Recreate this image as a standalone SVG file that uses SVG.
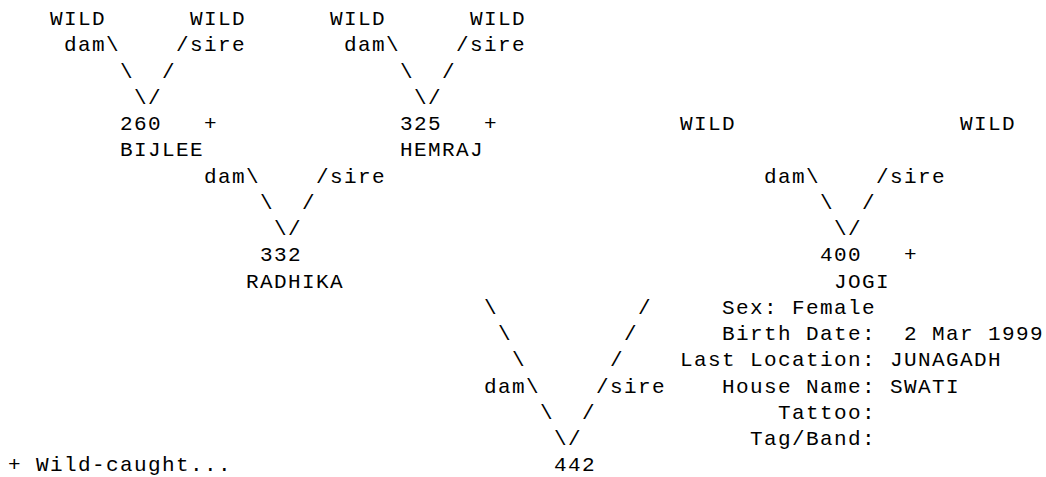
<svg xmlns="http://www.w3.org/2000/svg" width="1046" height="477" viewBox="0 0 1046 477">
<style>
text { font-family: "Liberation Mono", "DejaVu Sans Mono", monospace; font-size: 21px; letter-spacing: 1.4px; fill: #000; }
</style>
<rect width="1046" height="477" fill="#fff"/>
<g id="connectors">
  <text x="64" y="51.25">dam\</text><text x="176" y="51.25">/sire</text>
  <text x="344" y="51.25">dam\</text><text x="456" y="51.25">/sire</text>
  <text x="120" y="77.5">\</text><text x="162" y="77.5">/</text>
  <text x="400" y="77.5">\</text><text x="442" y="77.5">/</text>
  <text x="134" y="103.75">\/</text><text x="414" y="103.75">\/</text>
  <text x="204" y="182.5">dam\</text><text x="316" y="182.5">/sire</text>
  <text x="764" y="182.5">dam\</text><text x="876" y="182.5">/sire</text>
  <text x="260" y="208.75">\</text><text x="302" y="208.75">/</text>
  <text x="820" y="208.75">\</text><text x="862" y="208.75">/</text>
  <text x="274" y="235">\/</text><text x="834" y="235">\/</text>
  <text x="484" y="313.75">\</text><text x="638" y="313.75">/</text>
  <text x="498" y="340">\</text><text x="624" y="340">/</text>
  <text x="512" y="366.25">\</text><text x="610" y="366.25">/</text>
  <text x="484" y="392.5">dam\</text><text x="596" y="392.5">/sire</text>
  <text x="540" y="418.75">\</text><text x="582" y="418.75">/</text>
  <text x="554" y="445">\/</text>
</g>
<g id="wild-1"><text x="50" y="25">WILD</text></g>
<g id="wild-2"><text x="190" y="25">WILD</text></g>
<g id="wild-3"><text x="330" y="25">WILD</text></g>
<g id="wild-4"><text x="470" y="25">WILD</text></g>
<g id="wild-5"><text x="680" y="130">WILD</text></g>
<g id="wild-6"><text x="960" y="130">WILD</text></g>
<g id="node-260"><text x="120" y="130">260</text><text x="204" y="130">+</text><text x="120" y="156.25">BIJLEE</text></g>
<g id="node-325"><text x="400" y="130">325</text><text x="484" y="130">+</text><text x="400" y="156.25">HEMRAJ</text></g>
<g id="node-332"><text x="260" y="261.25">332</text><text x="246" y="287.5">RADHIKA</text></g>
<g id="node-400"><text x="820" y="261.25">400</text><text x="904" y="261.25">+</text><text x="834" y="287.5">JOGI</text></g>
<g id="node-442"><text x="554" y="471.25">442</text></g>
<g id="info">
  <text x="722" y="313.75">Sex: Female</text>
  <text x="722" y="340">Birth Date:</text><text x="904" y="340">2 Mar 1999</text>
  <text x="680" y="366.25">Last Location: JUNAGADH</text>
  <text x="722" y="392.5">House Name: SWATI</text>
  <text x="778" y="418.75">Tattoo:</text>
  <text x="750" y="445">Tag/Band:</text>
</g>
<g id="legend"><text x="8" y="471.25">+ Wild-caught...</text></g>
</svg>
